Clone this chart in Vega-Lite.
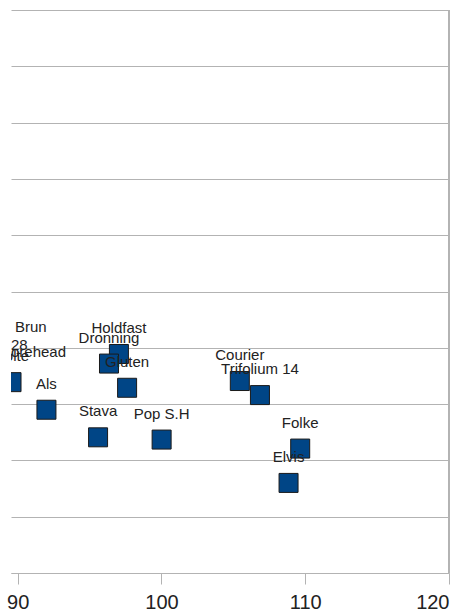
{
  "$schema": "https://vega.github.io/schema/vega-lite/v6.json",
  "autosize": {"type": "none"},
  "padding": {"left": 11, "top": 10, "right": 25, "bottom": 42},
  "width": 438,
  "height": 563,
  "background": "white",
  "config": {"view": {"stroke": null}, "font": "Liberation Sans"},
  "data": {
    "values": [
      {"name": "Holdfast", "x": 97.04, "y": 3.89},
      {"name": "Dronning", "x": 96.35, "y": 3.72},
      {"name": "Gluten", "x": 97.61, "y": 3.29},
      {"name": "Als", "x": 92.0, "y": 2.9},
      {"name": "Stava", "x": 95.59, "y": 2.41},
      {"name": "Pop S.H", "x": 100.01, "y": 2.37},
      {"name": "Courier", "x": 105.45, "y": 3.41},
      {"name": "Trifolium 14", "x": 106.85, "y": 3.16},
      {"name": "Folke", "x": 109.65, "y": 2.21},
      {"name": "Elvis", "x": 108.84, "y": 1.6},
      {"name": "Nolte", "x": 89.57, "y": 3.39},
      {"name": "Brun", "x": 88.84, "y": 3.91},
      {"name": "28", "x": 88.56, "y": 3.59},
      {"name": "Morehead", "x": 87.69, "y": 3.46}
    ]
  },
  "encoding": {
    "x": {
      "field": "x", "type": "quantitative",
      "scale": {"domain": [89.534, 120], "nice": false, "zero": false},
      "axis": {
        "values": [90, 100, 110, 120], "grid": false, "title": null,
        "domainColor": "#b3b3b3", "tickColor": "#b3b3b3", "tickSize": 11,
        "labelFontSize": 20, "labelColor": "#222222", "labelPadding": 8,
        "labelFont": "Liberation Sans"
      }
    },
    "y": {
      "field": "y", "type": "quantitative",
      "scale": {"domain": [0, 10], "nice": false},
      "axis": {
        "values": [0, 1, 2, 3, 4, 5, 6, 7, 8, 9, 10], "grid": true,
        "gridColor": "#b3b3b3", "labels": false, "ticks": false,
        "domain": false, "title": null
      }
    }
  },
  "layer": [
    {
      "mark": {"type": "rule", "color": "#b3b3b3"},
      "encoding": {"x": {"datum": 120}, "y": null}
    },
    {
      "mark": {"type": "point", "shape": "square", "filled": true, "size": 361, "fill": "#004586", "stroke": "#1a1a1a", "strokeWidth": 1, "opacity": 1, "clip": true}
    },
    {
      "transform": [{"filter": "datum.x >= 89.5"}],
      "mark": {"type": "text", "fontSize": 15, "color": "#222222", "dy": -26, "align": "center", "baseline": "middle", "clip": true, "font": "Liberation Sans"},
      "encoding": {"text": {"field": "name"}}
    },
    {
      "transform": [{"filter": "datum.x < 89.5"}],
      "mark": {"type": "text", "fontSize": 15, "color": "#222222", "dy": -26, "dx": 14, "align": "left", "baseline": "middle", "clip": true, "font": "Liberation Sans"},
      "encoding": {"text": {"field": "name"}}
    }
  ]
}
